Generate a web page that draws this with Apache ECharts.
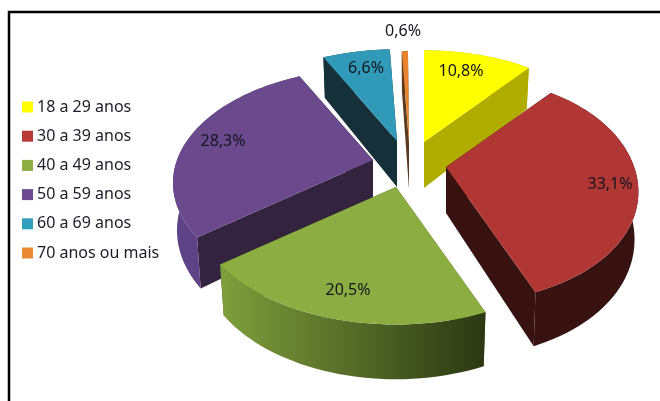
<!DOCTYPE html>
<html>
<head>
<meta charset="utf-8">
<style>
  html, body { margin: 0; padding: 0; background: #fff; }
  #chart { width: 660px; height: 401px; }
</style>
<script src="https://cdn.jsdelivr.net/npm/echarts@6/dist/echarts.min.js"></script>
</head>
<body>
<div id="chart"></div>
<script>
const categories = ['18 a 29 anos', '30 a 39 anos', '40 a 49 anos', '50 a 59 anos', '60 a 69 anos', '70 anos ou mais']
const shares = [10.8, 33.1, 20.5, 28.3, 6.6, 0.6]

const topColors = ['#ffff00', '#b03734', '#8bad41', '#6a4a8c', '#319ab8', '#e8842f']
const legendColors = ['#ffff00', '#b83a37', '#8fae44', '#6b4a90', '#31a0bd', '#ea8a34']
const radialWalls = ['#b0ad00', '#371211', '#4a5f22', '#33233f', '#153039', '#5a3a20']
const arcWalls = [
  ['#b0ad00', '#b0ad00'],
  ['#371211', '#371211'],
  ['#7f9f3c', '#2b3713'],
  ['#5f4388', '#583e7c'],
  ['#153039', '#153039'],
  ['#5a3a20', '#5a3a20']
]
// exploded slice apex on the screen, and where each value label sits
const apexes = [[424, 142], [446, 167], [396, 187], [373, 160], [397, 141], [409, 143]]
const labelPos = [[461, 71], [610, 184], [348, 290], [223, 141], [366, 68], [403, 31]]
// back to front
const drawOrder = [5, 4, 0, 1, 3, 2]

const RX = 196
const RY = 110
const PERSP = 0.2
const DEPTH = 46
// the right side of the original pie is a little flatter than an ellipse
const RIGHT_TRIM = 0.04

function project(apex, deg, r, low) {
  const t = deg * Math.PI / 180
  const den = 1 + PERSP * r * Math.cos(t)
  const s = low ? 0.98 : 1
  let sx = r * Math.sin(t)
  if (sx > 0) sx = sx * (1 - RIGHT_TRIM * sx * sx)
  return [
    apex[0] + s * RX * sx / den,
    apex[1] - s * RY * r * Math.cos(t) / den + (low ? DEPTH / den : 0)
  ]
}

function arcPoints(apex, from, to, low) {
  const pts = []
  const n = Math.max(2, Math.ceil((to - from) / 2))
  for (let i = 0; i <= n; i++) {
    pts.push(project(apex, from + (to - from) * i / n, 1, low))
  }
  return pts
}

function radialWall(apex, deg, fill) {
  return {
    type: 'polygon',
    shape: { points: [project(apex, 0, 0, false), project(apex, deg, 1, false), project(apex, deg, 1, true), project(apex, 0, 0, true)] },
    style: { fill }
  }
}

function sliceItem(i) {
  const apex = apexes[i]
  const before = shares.slice(0, i).reduce((a, b) => a + b, 0)
  const from = before * 3.6
  const to = (before + shares[i]) * 3.6
  const topArc = arcPoints(apex, from, to, false)
  const lowArc = arcPoints(apex, from, to, true)
  const label = shares[i].toFixed(1).replace('.', ',') + '%'
  return {
    type: 'group',
    children: [
      radialWall(apex, from, radialWalls[i]),
      radialWall(apex, to, radialWalls[i]),
      {
        type: 'polygon',
        shape: { points: topArc.concat(lowArc.slice().reverse()) },
        style: {
          fill: new echarts.graphic.LinearGradient(1, 0, 0, 0, [
            { offset: 0, color: arcWalls[i][1] },
            { offset: 1, color: arcWalls[i][0] }
          ])
        }
      },
      {
        type: 'polygon',
        shape: { points: [project(apex, 0, 0, false)].concat(topArc) },
        style: { fill: topColors[i] }
      },
      {
        type: 'text',
        style: {
          text: label,
          x: labelPos[i][0],
          y: labelPos[i][1],
          align: 'center',
          verticalAlign: 'middle',
          font: '16px "Noto Sans"',
          fill: '#15151f'
        }
      }
    ]
  }
}

const chart = echarts.init(document.getElementById('chart'))

chart.setOption({
  animation: false,
  backgroundColor: '#ffffff',
  legend: {
    orient: 'vertical',
    left: 17,
    top: 91,
    itemWidth: 11,
    itemHeight: 11,
    itemGap: 7.2,
    icon: 'rect',
    selectedMode: false,
    data: categories,
    textStyle: { fontFamily: 'Noto Sans', fontSize: 16, color: '#1c1c28', lineHeight: 22, padding: [0, 0, 0, -1] }
  },
  graphic: [{
    type: 'polyline',
    shape: { points: [[9, 401], [9, 12], [660, 12]] },
    style: { stroke: '#000', lineWidth: 2.5, fill: null }
  }],
  series: categories.map((name, i) => ({
    type: 'custom',
    name,
    coordinateSystem: 'none',
    z: 2 + drawOrder.indexOf(i),
    silent: true,
    itemStyle: { color: legendColors[i] },
    data: [shares[i]],
    renderItem: () => sliceItem(i)
  }))
})
</script>
</body>
</html>
